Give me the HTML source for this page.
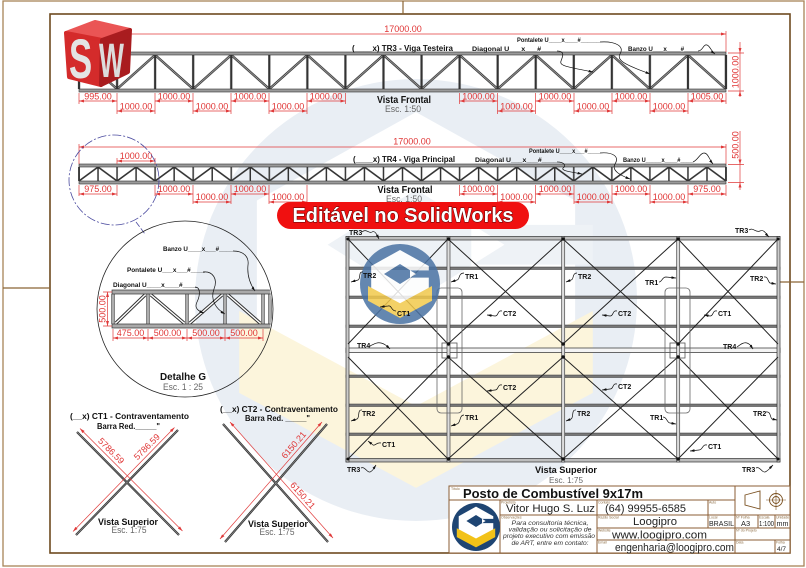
<!DOCTYPE html>
<html><head><meta charset="utf-8">
<style>
html,body{margin:0;padding:0;background:#fff;}
svg{display:block;}
text{font-family:"Liberation Sans",Arial,sans-serif;}
.d{fill:#e03535;font-size:9px;}
.dl{stroke:#e03a3a;stroke-width:0.7;fill:none;}
.dm{stroke:#e03a3a;stroke-width:0.7;fill:none;marker-start:url(#ra);marker-end:url(#ra);}
.lb{font-weight:bold;fill:#111;}
.tv{font-weight:bold;fill:#111;font-size:7px;}
.ld{fill:none;stroke:#111;stroke-width:0.7;marker-end:url(#ka);}
.gr{fill:#666;}
.tb{fill:none;stroke:#8b5e34;stroke-width:1;}
.sm{font-size:3.5px;fill:#8a6a40;}
</style></head><body>
<svg width="806" height="568" viewBox="0 0 806 568" xmlns="http://www.w3.org/2000/svg">
<defs>
 <marker id="ra" viewBox="0 0 10 6" refX="10" refY="3" markerWidth="5" markerHeight="3" markerUnits="userSpaceOnUse" orient="auto-start-reverse"><path d="M0,0L10,3L0,6z" fill="#e03a3a"/></marker>
 <marker id="ka" viewBox="0 0 10 6" refX="10" refY="3" markerWidth="4.5" markerHeight="2.7" markerUnits="userSpaceOnUse" orient="auto"><path d="M0,0L10,3L0,6z" fill="#111"/></marker>
 <pattern id="p3" patternUnits="userSpaceOnUse" x="79" y="55" width="76.12" height="34">
   <path d="M0,0L38.06,34L76.12,0" fill="none" stroke="#333" stroke-width="2.4"/>
   <path d="M0,0L38.06,34L76.12,0" fill="none" stroke="#aaa" stroke-width="0.8"/>
   <path d="M0,0V34M38.06,0V34M76.12,0V34" stroke="#333" stroke-width="2.2"/>
 </pattern>
 <pattern id="p4" patternUnits="userSpaceOnUse" x="79" y="167" width="38.06" height="14">
   <path d="M0,14L19.03,0L38.06,14" fill="none" stroke="#333" stroke-width="1.6"/>
   <path d="M0,0V14M19.03,0V14M38.06,0V14" stroke="#333" stroke-width="1.5"/>
 </pattern>
 <clipPath id="cc"><circle r="100"/></clipPath>
 <clipPath id="dg"><circle cx="185" cy="309" r="87"/></clipPath>
</defs>

<!-- watermark -->
<g transform="translate(416,300) scale(2.21)">
 <circle r="100" fill="#e9eef4"/>
 <path d="M0,-85 L-72,-45 L-72,15 L0,55 L72,15 L72,-45Z" fill="#fff"/>
 <path d="M0,-50 L-40,-25 L0,0 L40,-25Z M25,-34 H80 V-16 H25Z" fill="#eef2f6"/>
 <path d="M-80,5 L0,48 L80,5 L80,42 L0,85 L-80,42Z" fill="#fcf5dc" clip-path="url(#cc)"/>
</g>

<!-- frame -->
<rect x="3" y="1" width="801" height="565" fill="none" stroke="#a88457" stroke-width="1.3"/>
<rect x="50" y="14" width="740" height="539" fill="none" stroke="#6e4a1f" stroke-width="1.6"/>
<path d="M403,1V14 M3,288H50 M780,282H804" stroke="#8b6535" stroke-width="1.2"/>

<!-- ===== TR3 front view ===== -->
<rect x="79" y="55" width="647" height="34" fill="url(#p3)"/>
<rect x="79" y="52" width="647" height="3" fill="#9a9a9a" stroke="#333" stroke-width="0.6"/>
<rect x="79" y="89" width="647" height="3" fill="#9a9a9a" stroke="#333" stroke-width="0.6"/>
<path d="M79,55V89M726,55V89" stroke="#333" stroke-width="2.2"/>

<line class="dm" x1="79" y1="34" x2="726" y2="34"/>
<path class="dl" d="M79,31V52 M726,31V52"/>
<text class="d" x="403" y="32" text-anchor="middle" font-size="9.5">17000.00</text>

<path class="dl" d="M728,53H744 M728,91H744 M740,42V97"/>
<path d="M738.5,48L740,53L741.5,48z M738.5,96L740,91L741.5,96z" fill="#e03a3a"/>
<text class="d" transform="translate(738.5,72) rotate(-90)" text-anchor="middle">1000.00</text>

<path class="dl" d="M79,93V104 M345.5,93V104 M459.5,93V104 M726,93V104 M117,93V114 M155,93V114 M193,93V114 M231,93V114 M269,93V114 M307,93V114 M497.5,93V114 M535.5,93V114 M574,93V114 M612,93V114 M650,93V114 M688,93V114"/>
<g>
<line class="dm" x1="79" y1="101" x2="117" y2="101"/><text class="d" x="98" y="99.5" text-anchor="middle">995.00</text>
<line class="dm" x1="155" y1="101" x2="193" y2="101"/><text class="d" x="174" y="99.5" text-anchor="middle">1000.00</text>
<line class="dm" x1="231" y1="101" x2="269" y2="101"/><text class="d" x="250" y="99.5" text-anchor="middle">1000.00</text>
<line class="dm" x1="307" y1="101" x2="345.5" y2="101"/><text class="d" x="326" y="99.5" text-anchor="middle">1000.00</text>
<line class="dm" x1="459.5" y1="101" x2="497.5" y2="101"/><text class="d" x="478.5" y="99.5" text-anchor="middle">1000.00</text>
<line class="dm" x1="535.5" y1="101" x2="574" y2="101"/><text class="d" x="555" y="99.5" text-anchor="middle">1000.00</text>
<line class="dm" x1="612" y1="101" x2="650" y2="101"/><text class="d" x="631" y="99.5" text-anchor="middle">1000.00</text>
<line class="dm" x1="688" y1="101" x2="726" y2="101"/><text class="d" x="707" y="99.5" text-anchor="middle">1005.00</text>
<line class="dm" x1="117" y1="111" x2="155" y2="111"/><text class="d" x="136" y="109.5" text-anchor="middle">1000.00</text>
<line class="dm" x1="193" y1="111" x2="231" y2="111"/><text class="d" x="212" y="109.5" text-anchor="middle">1000.00</text>
<line class="dm" x1="269" y1="111" x2="307" y2="111"/><text class="d" x="288" y="109.5" text-anchor="middle">1000.00</text>
<line class="dm" x1="497.5" y1="111" x2="535.5" y2="111"/><text class="d" x="516.5" y="109.5" text-anchor="middle">1000.00</text>
<line class="dm" x1="574" y1="111" x2="612" y2="111"/><text class="d" x="593" y="109.5" text-anchor="middle">1000.00</text>
<line class="dm" x1="650" y1="111" x2="688" y2="111"/><text class="d" x="669" y="109.5" text-anchor="middle">1000.00</text>
</g>
<text class="lb" x="404" y="103" font-size="10" text-anchor="middle" textLength="54" lengthAdjust="spacingAndGlyphs">Vista Frontal</text>
<text class="gr" x="403" y="112" font-size="9" text-anchor="middle" textLength="36" lengthAdjust="spacingAndGlyphs">Esc. 1:50</text>

<text class="lb" x="352" y="51" font-size="8" textLength="101" lengthAdjust="spacingAndGlyphs">(____x)  TR3 - Viga Testeira</text>
<text class="lb" x="472" y="51" font-size="6.5" textLength="85" lengthAdjust="spacingAndGlyphs">Diagonal U___x___#____</text>
<text class="lb" x="517" y="42" font-size="6.5" textLength="83" lengthAdjust="spacingAndGlyphs">Pontalete U____x____#______</text>
<text class="lb" x="628" y="51" font-size="6.5" textLength="70" lengthAdjust="spacingAndGlyphs">Banzo U___x____#____</text>
<path class="ld" d="M557,51 C565,51 563,56 561,61 C559,66 568,67 593,72"/>
<path class="ld" d="M600,42 C615,41 625,46 620,54 C615,62 635,68 650,74"/>
<path class="ld" d="M698,51 C703,51 703,44 707,45 C710,46 711,51 715,54"/>

<!-- SW logo -->
<g stroke-linejoin="round">
 <path d="M66,33 L95,22 L130,30 L102,40 Z" fill="#ea5555" stroke="#ea5555" stroke-width="4"/>
 <path d="M66,33 L102,40 L101,85 L69,77 Z" fill="#d42b2b" stroke="#d42b2b" stroke-width="4"/>
 <path d="M102,40 L130,30 L128,72 L101,85 Z" fill="#a91c1f" stroke="#a91c1f" stroke-width="4"/>
 <text transform="translate(69,78) scale(0.62,1)" font-size="56" font-weight="bold" fill="#e4e4e4">S</text>
 <text transform="translate(99,77) scale(0.55,1)" font-size="48" font-weight="bold" fill="#dcdcdc">W</text>
</g>

<!-- ===== TR4 front view ===== -->
<rect x="79" y="167" width="647" height="14" fill="url(#p4)"/>
<rect x="79" y="164" width="647" height="3" fill="#9a9a9a" stroke="#333" stroke-width="0.6"/>
<rect x="79" y="181" width="647" height="3" fill="#9a9a9a" stroke="#333" stroke-width="0.6"/>
<path d="M79,167V181M726,167V181" stroke="#333" stroke-width="1.8"/>

<line class="dm" x1="79" y1="147" x2="726" y2="147"/>
<path class="dl" d="M79,144V164 M726,144V164"/>
<text class="d" x="412" y="144.5" text-anchor="middle" font-size="9.5">17000.00</text>

<path class="dl" d="M728,164.5H744 M728,182.5H744 M740,131V190"/>
<path d="M738.5,159.5L740,164.5L741.5,159.5z M738.5,187.5L740,182.5L741.5,187.5z" fill="#e03a3a"/>
<text class="d" transform="translate(738.5,145) rotate(-90)" text-anchor="middle">500.00</text>

<path class="dl" d="M79,185V196 M117,185V196 M155,185V196 M459.5,185V196 M726,185V196 M193,185V204 M231,185V204 M269,185V204 M307,185V204 M497.5,185V204 M535.5,185V204 M574,185V204 M612,185V204 M650,185V204 M688,185V204 M117,158V164 M155,158V164"/>
<g>
<line class="dm" x1="117" y1="161" x2="155" y2="161"/><text class="d" x="136" y="159" text-anchor="middle">1000.00</text>
<line class="dm" x1="79" y1="194" x2="117" y2="194"/><text class="d" x="98" y="192" text-anchor="middle">975.00</text>
<line class="dm" x1="155" y1="194" x2="193" y2="194"/><text class="d" x="174" y="192" text-anchor="middle">1000.00</text>
<line class="dm" x1="231" y1="194" x2="269" y2="194"/><text class="d" x="250" y="192" text-anchor="middle">1000.00</text>
<line class="dm" x1="459.5" y1="194" x2="497.5" y2="194"/><text class="d" x="478.5" y="192" text-anchor="middle">1000.00</text>
<line class="dm" x1="535.5" y1="194" x2="574" y2="194"/><text class="d" x="555" y="192" text-anchor="middle">1000.00</text>
<line class="dm" x1="612" y1="194" x2="650" y2="194"/><text class="d" x="631" y="192" text-anchor="middle">1000.00</text>
<line class="dm" x1="688" y1="194" x2="726" y2="194"/><text class="d" x="707" y="192" text-anchor="middle">975.00</text>
<line class="dm" x1="193" y1="202" x2="231" y2="202"/><text class="d" x="212" y="200" text-anchor="middle">1000.00</text>
<line class="dm" x1="269" y1="202" x2="307" y2="202"/><text class="d" x="288" y="200" text-anchor="middle">1000.00</text>
<line class="dm" x1="497.5" y1="202" x2="535.5" y2="202"/><text class="d" x="516.5" y="200" text-anchor="middle">1000.00</text>
<line class="dm" x1="574" y1="202" x2="612" y2="202"/><text class="d" x="593" y="200" text-anchor="middle">1000.00</text>
<line class="dm" x1="650" y1="202" x2="688" y2="202"/><text class="d" x="669" y="200" text-anchor="middle">1000.00</text>
</g>
<text class="lb" x="405" y="193" font-size="10" text-anchor="middle" textLength="55" lengthAdjust="spacingAndGlyphs">Vista Frontal</text>
<text class="gr" x="404" y="202" font-size="9" text-anchor="middle" textLength="36" lengthAdjust="spacingAndGlyphs">Esc. 1:50</text>

<text class="lb" x="353" y="162" font-size="8" textLength="102" lengthAdjust="spacingAndGlyphs">(____x)  TR4 - Viga Principal</text>
<text class="lb" x="475" y="162" font-size="6.5" textLength="82" lengthAdjust="spacingAndGlyphs">Diagonal U___x___#____</text>
<text class="lb" x="529" y="153" font-size="6.5" textLength="71" lengthAdjust="spacingAndGlyphs">Pontalete U____x___#____</text>
<text class="lb" x="623" y="162" font-size="6.5" textLength="70" lengthAdjust="spacingAndGlyphs">Banzo U_____x____#____</text>
<path class="ld" d="M557,162 C565,162 566,166 563,168 C561,171 572,172 582,174"/>
<path class="ld" d="M600,153 C612,152 620,156 615,164 C611,171 622,176 630,179"/>
<path class="ld" d="M693,162 C698,160 700,153 704,153 C708,153 709,159 713,164"/>

<circle cx="114" cy="180" r="45" fill="none" stroke="#4c4ca0" stroke-width="0.8" stroke-dasharray="9 2 2 2"/>
<path d="M136,222 L145,234" stroke="#4c4ca0" stroke-width="0.8" stroke-dasharray="6 2"/>

<!-- ===== Detail G ===== -->
<circle cx="185" cy="309" r="88" fill="none" stroke="#222" stroke-width="0.8"/>
<g clip-path="url(#dg)">
 <path d="M113,294V324 M148,294V324 M187,294V324 M225,294V324 M263,294V324 M270,294V324" stroke="#333" stroke-width="3.2"/>
 <path d="M113,294V324 M148,294V324 M187,294V324 M225,294V324 M263,294V324 M270,294V324" stroke="#fff" stroke-width="1.2"/>
 <path d="M116,323L145,295 M151,295L184,323 M190,323L222,295 M228,295L260,323" stroke="#333" stroke-width="3.4"/>
 <path d="M116,323L145,295 M151,295L184,323 M190,323L222,295 M228,295L260,323" stroke="#fff" stroke-width="1.4"/>
 <rect x="112" y="290" width="170" height="4" fill="#aaa" stroke="#333" stroke-width="0.7"/>
 <rect x="112" y="324" width="170" height="4" fill="#aaa" stroke="#333" stroke-width="0.7"/>
</g>
<path class="dl" d="M113,329V341 M148,329V341 M187,329V341 M225,329V341 M263,329V341 M103,292H112 M103,326H112"/>
<line class="dm" x1="113" y1="338" x2="148" y2="338"/><text class="d" x="130.5" y="336" text-anchor="middle" font-size="8.5">475.00</text>
<line class="dm" x1="148" y1="338" x2="187" y2="338"/><text class="d" x="167.5" y="336" text-anchor="middle" font-size="8.5">500.00</text>
<line class="dm" x1="187" y1="338" x2="225" y2="338"/><text class="d" x="206" y="336" text-anchor="middle" font-size="8.5">500.00</text>
<line class="dm" x1="225" y1="338" x2="263" y2="338"/><text class="d" x="244" y="336" text-anchor="middle" font-size="8.5">500.00</text>
<line class="dm" x1="107.5" y1="292" x2="107.5" y2="326"/>
<text class="d" transform="translate(105.5,309) rotate(-90)" text-anchor="middle" font-size="8.5">500.00</text>

<text class="lb" x="163" y="251" font-size="6.5" textLength="70" lengthAdjust="spacingAndGlyphs">Banzo U____x___#____</text>
<text class="lb" x="127" y="272" font-size="6.5" textLength="78" lengthAdjust="spacingAndGlyphs">Pontalete U___x___#____</text>
<text class="lb" x="113" y="287" font-size="6.5" textLength="84" lengthAdjust="spacingAndGlyphs">Diagonal U____x____#____</text>
<path class="ld" d="M233,251 C245,251 249,258 248,265 C247,275 250,284 255,291"/>
<path class="ld" d="M203,272 C213,271 218,279 214,289 C210,300 216,309 225,314"/>
<path class="ld" d="M195,287 C201,287 200,296 197,302 C194,308 198,311 204,313"/>
<text class="lb" x="183" y="380" font-size="10" text-anchor="middle" textLength="46" lengthAdjust="spacingAndGlyphs">Detalhe G</text>
<text class="gr" x="183" y="390" font-size="9" text-anchor="middle" textLength="40" lengthAdjust="spacingAndGlyphs">Esc. 1 : 25</text>

<!-- ===== CT1 ===== -->
<path d="M77,432L179,535 M178,430L76,535" stroke="#333" stroke-width="2.2"/>
<path d="M77,432L179,535 M178,430L76,535" stroke="#999" stroke-width="0.6"/>
<line class="dm" x1="80" y1="428.5" x2="182.5" y2="531"/>
<line class="dm" x1="174.5" y1="427.5" x2="73" y2="531.5"/>
<text class="d" transform="translate(109,453) rotate(45)" text-anchor="middle">5786.59</text>
<text class="d" transform="translate(149,449) rotate(-45)" text-anchor="middle">5786.59</text>
<text class="lb" x="70" y="419" font-size="8" textLength="119" lengthAdjust="spacingAndGlyphs">(__x)  CT1 - Contraventamento</text>
<text class="lb" x="97" y="429" font-size="8" textLength="63" lengthAdjust="spacingAndGlyphs">Barra Red._____&quot;</text>
<text class="lb" x="128" y="525" font-size="9.5" text-anchor="middle" textLength="60" lengthAdjust="spacingAndGlyphs">Vista Superior</text>
<text class="gr" x="129" y="533" font-size="9" text-anchor="middle" textLength="35" lengthAdjust="spacingAndGlyphs">Esc. 1:75</text>

<!-- ===== CT2 ===== -->
<path d="M223,424L328,542 M327,424L225,542" stroke="#333" stroke-width="2.2"/>
<path d="M223,424L328,542 M327,424L225,542" stroke="#999" stroke-width="0.6"/>
<line class="dm" x1="230" y1="422" x2="333" y2="538"/>
<line class="dm" x1="322" y1="422" x2="220" y2="539"/>
<text class="d" transform="translate(296,447) rotate(-49)" text-anchor="middle">6150.21</text>
<text class="d" transform="translate(300.5,497.5) rotate(48)" text-anchor="middle">6150.21</text>
<text class="lb" x="220" y="412" font-size="8" textLength="118" lengthAdjust="spacingAndGlyphs">(__x)  CT2 - Contraventamento</text>
<text class="lb" x="245" y="421" font-size="8" textLength="65" lengthAdjust="spacingAndGlyphs">Barra Red. _____&quot;</text>
<text class="lb" x="278" y="527" font-size="9.5" text-anchor="middle" textLength="60" lengthAdjust="spacingAndGlyphs">Vista Superior</text>
<text class="gr" x="277" y="535" font-size="9" text-anchor="middle" textLength="35" lengthAdjust="spacingAndGlyphs">Esc. 1:75</text>

<!-- ===== Top view ===== -->
<g>
 <rect x="346" y="267" width="434" height="2.5" fill="#777" stroke="#333" stroke-width="0.5"/>
 <rect x="346" y="296" width="434" height="2.5" fill="#777" stroke="#333" stroke-width="0.5"/>
 <rect x="346" y="325" width="434" height="2.5" fill="#777" stroke="#333" stroke-width="0.5"/>
 <rect x="346" y="375" width="434" height="2.5" fill="#777" stroke="#333" stroke-width="0.5"/>
 <rect x="346" y="404" width="434" height="2.5" fill="#777" stroke="#333" stroke-width="0.5"/>
 <rect x="346" y="433" width="434" height="2.5" fill="#777" stroke="#333" stroke-width="0.5"/>
 <rect x="346" y="348" width="434" height="4.5" fill="#f4f4f4" stroke="#444" stroke-width="0.8"/>
 <rect x="346" y="236.5" width="434" height="3.5" fill="#bdbdbd" stroke="#333" stroke-width="0.7"/>
 <rect x="346" y="458.5" width="434" height="3.5" fill="#bdbdbd" stroke="#333" stroke-width="0.7"/>
 <rect x="346" y="236.5" width="3" height="225.5" fill="#ccc" stroke="#333" stroke-width="0.7"/>
 <rect x="777" y="236.5" width="3" height="225.5" fill="#ccc" stroke="#333" stroke-width="0.7"/>
 <rect x="447" y="236.5" width="3" height="225.5" fill="#ddd" stroke="#444" stroke-width="0.7"/>
 <rect x="561.7" y="236.5" width="3" height="225.5" fill="#ddd" stroke="#444" stroke-width="0.7"/>
 <rect x="676.7" y="236.5" width="3" height="225.5" fill="#ddd" stroke="#444" stroke-width="0.7"/>
 <path d="M348,239L448,344 M448,239L348,344 M448,239L563,344 M563,239L448,344 M563,239L678,344 M678,239L563,344 M678,239L778,344 M778,239L678,344 M348,357L448,459 M448,357L348,459 M448,357L563,459 M563,357L448,459 M563,357L678,459 M678,357L563,459 M678,357L778,459 M778,357L678,459" stroke="#222" stroke-width="1" fill="none"/>
 <rect x="437" y="288" width="25" height="125" rx="4" fill="none" stroke="#666" stroke-width="0.8"/>
 <rect x="665" y="288" width="25" height="125" rx="4" fill="none" stroke="#666" stroke-width="0.8"/>
 <rect x="442" y="343" width="15" height="15" fill="none" stroke="#555" stroke-width="0.8"/>
 <rect x="670" y="343" width="15" height="15" fill="none" stroke="#555" stroke-width="0.8"/>
 <g fill="#111">
  <circle cx="448.5" cy="239" r="1.7"/><circle cx="563" cy="239" r="1.7"/><circle cx="678" cy="239" r="1.7"/>
  <circle cx="448.5" cy="344" r="1.7"/><circle cx="563" cy="344" r="1.7"/><circle cx="678" cy="344" r="1.7"/>
  <circle cx="448.5" cy="357" r="1.7"/><circle cx="563" cy="357" r="1.7"/><circle cx="678" cy="357" r="1.7"/>
  <circle cx="448.5" cy="459" r="1.7"/><circle cx="563" cy="459" r="1.7"/><circle cx="678" cy="459" r="1.7"/>
  <circle cx="348" cy="239" r="1.5"/><circle cx="778" cy="239" r="1.5"/><circle cx="348" cy="459" r="1.5"/><circle cx="778" cy="459" r="1.5"/>
 </g>
</g>

<!-- small logo overlay -->
<g transform="translate(400,284) scale(0.4)" opacity="0.85">
 <circle r="100" fill="#4a73a3"/>
 <path d="M0,-85 L-72,-45 L-72,15 L0,55 L72,15 L72,-45Z" fill="#fff"/>
 <path d="M0,-50 L-40,-25 L0,0 L40,-25Z M25,-34 H80 V-16 H25Z" fill="#4a73a3"/>
 <path d="M-80,5 L0,48 L80,5 L80,42 L0,85 L-80,42Z" fill="#f2c94c" clip-path="url(#cc)"/>
</g>

<!-- top view labels -->
<g>
<text class="tv" x="349" y="235">TR3</text><path class="ld" d="M362,232 C366,228 369,234 372,232 C375,230 377,235 379,239"/>
<text class="tv" x="735" y="233">TR3</text><path class="ld" d="M749,230 C753,227 756,233 760,231 C764,229 766,234 769,237"/>
<text class="tv" x="363" y="278">TR2</text><path class="ld" d="M363,272 C358,271 361,279 358,280 L351,282"/>
<text class="tv" x="465" y="279">TR1</text><path class="ld" d="M464,273 C458,273 460,280 457,280 L451,282"/>
<text class="tv" x="578" y="279">TR2</text><path class="ld" d="M577,273 C572,273 574,280 571,280 L566,282"/>
<text class="tv" x="645" y="285">TR1</text><path class="ld" d="M659,282 C662,282 662,277 666,277 L676,278"/>
<text class="tv" x="750" y="281">TR2</text><path class="ld" d="M764,277 C768,276 768,282 770,283 L776,284"/>
<text class="tv" x="397" y="316">CT1</text><path class="ld" d="M396,311 C391,311 392,305 388,306 L380,307"/>
<text class="tv" x="503" y="316">CT2</text><path class="ld" d="M502,311 C497,310 499,316 495,316 L487,315"/>
<text class="tv" x="618" y="316">CT2</text><path class="ld" d="M617,311 C612,310 614,316 610,316 L602,315"/>
<text class="tv" x="718" y="316">CT1</text><path class="ld" d="M717,311 C712,310 714,316 710,316 L704,315"/>
<text class="tv" x="357" y="348">TR4</text><path class="ld" d="M370,346 C374,344 377,342 381,343 C385,344 387,346 390,349"/>
<text class="tv" x="723" y="349">TR4</text><path class="ld" d="M737,347 C741,344 744,342 747,343 C750,344 751,346 753,349"/>
<text class="tv" x="503" y="390">CT2</text><path class="ld" d="M502,385 C497,384 499,390 495,390 L487,391"/>
<text class="tv" x="618" y="389">CT2</text><path class="ld" d="M617,384 C612,383 614,389 610,389 L602,390"/>
<text class="tv" x="362" y="416">TR2</text><path class="ld" d="M362,410 C357,409 360,418 357,419 L351,421"/>
<text class="tv" x="465" y="420">TR1</text><path class="ld" d="M464,415 C459,415 461,423 457,424 L451,426"/>
<text class="tv" x="577" y="416">TR2</text><path class="ld" d="M576,410 C571,409 574,418 571,419 L566,421"/>
<text class="tv" x="650" y="420">TR1</text><path class="ld" d="M663,417 C667,417 667,423 670,423 L676,424"/>
<text class="tv" x="753" y="416">TR2</text><path class="ld" d="M766,412 C771,411 770,418 772,419 L777,420"/>
<text class="tv" x="382" y="447">CT1</text><path class="ld" d="M381,443 C376,442 376,446 373,445 L368,441"/>
<text class="tv" x="708" y="449">CT1</text><path class="ld" d="M707,445 C702,444 703,450 699,450 L690,451"/>
<text class="tv" x="347" y="472">TR3</text><path class="ld" d="M361,468 C365,466 367,473 370,472 C373,471 374,468 376,465"/>
<text class="tv" x="742" y="472">TR3</text><path class="ld" d="M756,468 C760,466 762,473 765,472 C768,471 770,468 773,465"/>
</g>
<text class="lb" x="566" y="473" font-size="9" text-anchor="middle" textLength="62" lengthAdjust="spacingAndGlyphs">Vista Superior</text>
<text class="gr" x="566" y="483" font-size="8.5" text-anchor="middle" textLength="34" lengthAdjust="spacingAndGlyphs">Esc. 1:75</text>

<!-- red banner -->
<rect x="277" y="202" width="252" height="27" rx="13.5" fill="#f01010"/>
<text x="403" y="222" text-anchor="middle" font-size="20" font-weight="bold" fill="#fff" stroke="#5a0000" stroke-width="1" paint-order="stroke" textLength="221" lengthAdjust="spacingAndGlyphs">Editável no SolidWorks</text>

<!-- ===== Title block ===== -->
<rect x="449" y="486" width="341" height="67" fill="#fff"/>
<rect class="tb" x="449" y="486" width="341" height="67"/>
<path class="tb" d="M449,500H735 M500,515H790 M597,528H790 M597,540H790 M500,500V553 M597,500V553 M708,500V528 M735,486V553 M758,515V528 M775,515V528 M775,540V553"/>
<g transform="translate(476,527) scale(0.24)">
 <circle r="100" fill="#1e4573"/>
 <path d="M0,-85 L-72,-45 L-72,15 L0,55 L72,15 L72,-45Z" fill="#fff"/>
 <path d="M0,-50 L-40,-25 L0,0 L40,-25Z M25,-34 H80 V-16 H25Z" fill="#1e4573"/>
 <path d="M-80,5 L0,48 L80,5 L80,42 L0,85 L-80,42Z" fill="#f2c218" clip-path="url(#cc)"/>
</g>
<path d="M745,495 L760,491 L760,509 L745,505 Z" fill="none" stroke="#7a5020" stroke-width="0.9"/>
<circle cx="776" cy="500" r="6.5" fill="none" stroke="#7a5020" stroke-width="0.9"/>
<circle cx="776" cy="500" r="3.5" fill="none" stroke="#7a5020" stroke-width="0.9"/>
<path d="M766,500H786 M776,490V510" stroke="#7a5020" stroke-width="0.6"/>

<g class="sm">
<text x="451" y="490">Título</text><text x="501" y="503.5">Projetista</text><text x="598" y="503.5">Contato</text><text x="709" y="503.5">Auto</text>
<text x="501" y="518.5">Observações</text><text x="598" y="518.5">Razão Social</text><text x="709" y="518.5">Local</text><text x="736" y="518.5">Nº Folha</text><text x="759" y="518.5">Escala</text><text x="776" y="518.5">Unidade</text>
<text x="598" y="531.5">Website</text><text x="736" y="531.5">Nº do Projeto</text>
<text x="598" y="543.5">Email</text><text x="736" y="543.5">Data</text><text x="776" y="543.5">Folha</text>
</g>
<text x="463" y="498" font-size="13" font-weight="bold" fill="#111" textLength="180" lengthAdjust="spacingAndGlyphs">Posto de Combustível 9x17m</text>
<text x="506" y="512" font-size="11" fill="#222" textLength="89" lengthAdjust="spacingAndGlyphs">Vitor Hugo S. Luz</text>
<text x="605" y="512" font-size="11" fill="#222" textLength="81" lengthAdjust="spacingAndGlyphs">(64) 99955-6585</text>
<text x="633" y="525" font-size="11" fill="#222" textLength="44" lengthAdjust="spacingAndGlyphs">Loogipro</text>
<text x="709" y="526" font-size="7.5" fill="#222" textLength="25" lengthAdjust="spacingAndGlyphs">BRASIL</text>
<text x="741" y="526" font-size="7.5" fill="#222">A3</text>
<text x="759" y="526" font-size="7" fill="#222" textLength="15" lengthAdjust="spacingAndGlyphs">1:100</text>
<text x="776.5" y="526" font-size="7" fill="#222" textLength="12" lengthAdjust="spacingAndGlyphs">mm</text>
<text x="612" y="538.5" font-size="11" fill="#222" textLength="95" lengthAdjust="spacingAndGlyphs">www.loogipro.com</text>
<text x="615" y="551" font-size="11" fill="#222" textLength="119" lengthAdjust="spacingAndGlyphs">engenharia@loogipro.com</text>
<text x="777" y="551" font-size="6.5" fill="#222">4/7</text>
<g font-size="6" font-style="italic" fill="#333" text-anchor="middle">
<text x="550" y="525" textLength="77" lengthAdjust="spacingAndGlyphs">Para consultoria técnica,</text>
<text x="550" y="531.5" textLength="83" lengthAdjust="spacingAndGlyphs">validação ou solicitação de</text>
<text x="549" y="538" textLength="92" lengthAdjust="spacingAndGlyphs">projeto executivo com emissão</text>
<text x="550" y="545" textLength="77" lengthAdjust="spacingAndGlyphs">de ART, entre em contato:</text>
</g>
</svg>
</body></html>
